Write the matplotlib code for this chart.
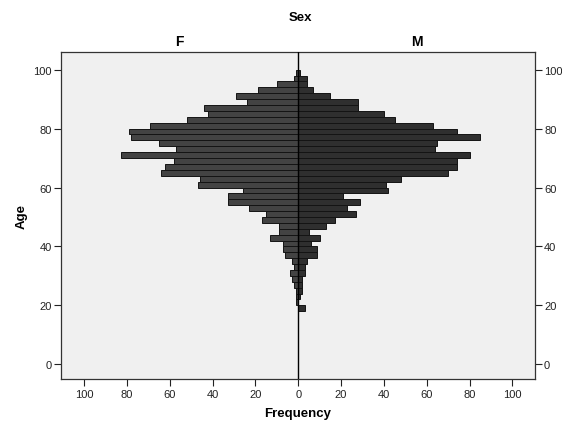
import matplotlib
matplotlib.use("Agg")
import matplotlib.pyplot as plt
from matplotlib.ticker import FuncFormatter

plt.rcParams['font.family'] = ['Liberation Sans', 'DejaVu Sans']

# age bins (2-year wide), start of each bin
age_start = list(range(18, 100, 2))

# frequencies
female = [0, 1, 1, 1, 2, 3, 4, 2, 3, 6, 7, 7, 13, 9, 9, 17, 15, 23, 33, 33, 26,
          47, 46, 64, 62, 58, 83, 57, 65, 78, 79, 69, 52, 42, 44, 24, 29, 19, 10, 2, 1]
male = [3, 0, 1, 2, 2, 2, 3, 3, 4, 9, 9, 6, 10, 5, 13, 17, 27, 23, 29, 21, 42,
        41, 48, 70, 74, 74, 80, 64, 65, 85, 74, 63, 45, 40, 28, 28, 15, 7, 4, 4, 1]

x_ticks = [-100, -80, -60, -40, -20, 0, 20, 40, 60, 80, 100]
y_ticks = [0, 20, 40, 60, 80, 100]

fig = plt.figure(figsize=(5.62, 4.31), dpi=100)
ax = fig.add_axes([0.1085, 0.1183, 0.8435, 0.7587])
ax.set_facecolor('#f0f0f0')

ax.barh(age_start, [-v for v in female], height=2, align='edge',
        color='#434343', edgecolor='#141414', linewidth=0.7, zorder=2)
ax.barh(age_start, male, height=2, align='edge',
        color='#2f2f2f', edgecolor='#141414', linewidth=0.7, zorder=2)
ax.axvline(0, color='black', linewidth=1, zorder=3)

ax.set_xlim(-110.8, 110.6)
ax.set_ylim(-5.0, 106)
ax.set_xticks(x_ticks)
ax.xaxis.set_major_formatter(FuncFormatter(lambda v, p: f"{abs(int(v))}"))
ax.set_yticks(y_ticks)
ax.tick_params(axis='y', left=True, right=True, labelleft=True, labelright=True,
               direction='out', length=5, width=0.8, labelsize=8, pad=1.5, colors='#222222')
ax.tick_params(axis='x', direction='out', length=5, width=0.8, labelsize=8, pad=2, colors='#222222')
for s in ax.spines.values():
    s.set_color('#333333')
    s.set_linewidth(0.9)

ax.set_xlabel('Frequency', fontsize=9.5, fontweight='bold', labelpad=6)
ax.set_ylabel('Age', fontsize=9.5, fontweight='bold', labelpad=4)

fig.text(300 / 562, 1 - 18 / 431, 'Sex', ha='center', va='center', fontsize=9.5, fontweight='bold')
fig.text(179.5 / 562, 1 - 42 / 431, 'F', ha='center', va='center', fontsize=10, fontweight='bold')
fig.text(416.5 / 562, 1 - 42 / 431, 'M', ha='center', va='center', fontsize=10, fontweight='bold')

plt.savefig('out.png', dpi=100)
